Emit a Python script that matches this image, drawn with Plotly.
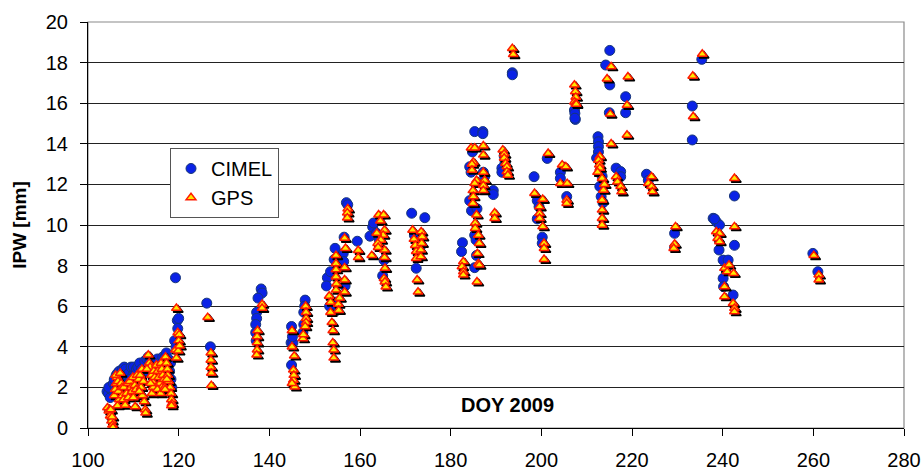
import plotly.graph_objects as go

# ---- data (DOY 2009, IPW mm) ----
cimel_doy = [
    104.2, 104.5, 104.9, 105.1, 105.4, 104.6, 105.6,
    105.8, 106.2, 106.5, 106.9, 106.0,
    107.3, 107.6, 108.0, 108.3, 107.0, 107.9, 108.6,
    109.0, 109.5, 109.9, 110.3, 109.3, 110.0, 110.7,
    111.0, 111.4, 111.8, 112.2, 111.6, 112.5,
    113.0, 113.3, 113.6, 113.9, 114.3, 113.2, 114.6, 114.8,
    115.0, 115.3, 115.8, 116.2, 115.5, 116.5, 116.8,
    117.0, 117.3, 117.7, 118.0, 118.3, 117.5, 118.2, 118.5,
    119.3, 119.7, 120.0, 119.8, 119.1, 119.4,
    126.2, 127.0,
    138.2, 138.4, 137.5, 137.2, 137.2, 137.0, 137.0, 137.1,
    144.9, 144.8, 145.2, 144.9, 145.1,
    147.9, 147.6, 147.6, 147.4, 147.8,
    152.8, 152.6, 154.5, 154.3, 153.5, 154.7, 154.9, 153.3,
    156.5, 156.3, 156.4, 156.7, 157.0, 157.3,
    159.4,
    162.2, 162.8, 163.0, 163.6, 164.2, 165.3, 165.0,
    171.4, 174.3, 172.4, 172.0, 173.5,
    182.6, 182.4,
    185.3, 187.1, 187.1, 184.8, 184.2, 184.5, 187.2, 187.5, 189.4, 189.4,
    184.2, 184.6, 185.8, 185.3, 185.6, 185.7, 185.3,
    191.8, 192.0, 191.3, 191.3, 193.6, 193.6,
    198.4, 199.1, 199.5, 199.1, 200.2, 200.2, 201.3,
    204.2, 204.2, 205.6,
    207.3, 207.5, 207.4, 207.4,
    212.5, 212.6, 212.6, 212.6, 213.0, 213.4, 212.9, 213.2, 213.6, 212.2,
    215.1, 214.2, 215.1, 215.0, 218.6, 218.6, 216.5, 217.5, 217.5,
    223.2, 223.6,
    229.4, 229.4,
    233.3, 233.3, 235.4,
    237.9, 238.6, 239.3, 239.2, 240.1, 241.2, 240.1, 240.2, 242.3, 242.6, 242.6, 238.2,
    259.9, 261.0,
]
cimel_ipw = [
    1.8, 1.7, 1.5, 1.9, 2.1, 2.0, 2.2,
    2.4, 2.6, 2.7, 2.8, 2.0,
    2.7, 2.9, 3.0, 2.9, 2.3, 2.5, 2.6,
    2.7, 3.0, 2.6, 2.8, 2.4, 3.0, 2.9,
    3.0, 3.2, 2.9, 2.7, 2.5, 3.3,
    3.4, 3.5, 3.2, 2.9, 3.0, 2.8, 3.2, 2.7,
    3.2, 3.4, 3.0, 3.3, 2.9, 3.5, 3.0,
    3.5, 3.7, 3.4, 2.8, 2.4, 3.0, 3.2, 2.0,
    7.4, 5.3, 5.4, 4.9, 4.3, 4.0,
    6.15, 4.0,
    6.85, 6.65, 6.4, 5.7, 5.4, 5.1, 4.7, 4.3,
    5.0, 4.2, 4.2, 3.1, 4.5,
    6.3, 5.7, 5.1, 4.7, 6.0,
    7.4, 7.0, 8.85, 8.3, 7.7, 6.2, 5.8, 6.0,
    9.4, 8.6, 8.2, 7.0, 11.1, 11.0,
    9.2,
    9.45, 9.9, 10.1, 9.6, 9.3, 8.27, 7.5,
    10.58, 10.36, 7.87, 9.5, 9.0,
    9.13, 8.69,
    14.6, 14.6, 14.5, 13.6, 12.87, 12.6, 12.6, 12.4, 11.7, 11.5,
    11.2, 10.7, 10.8, 9.5, 9.26, 8.5, 7.9,
    13.4, 13.1, 12.8, 12.6, 17.5, 17.4,
    12.38, 11.2, 10.9, 10.3, 9.4, 9.1, 13.28,
    12.6, 12.3, 11.4,
    15.66, 15.2, 15.5, 15.26,
    14.35, 14.1, 13.86, 13.6, 12.7, 12.4, 11.9, 11.4, 11.1, 13.3,
    18.6, 17.88, 16.9, 15.53, 16.32, 15.53, 12.8, 12.63, 12.38,
    12.5, 12.2,
    9.59, 8.9,
    15.86, 14.19, 18.16,
    10.33, 10.16, 10.0, 8.77, 8.27, 8.27, 7.37, 6.96, 6.55, 9.0, 11.43, 10.3,
    8.6, 7.7,
]

gps_doy = [
    104.3, 104.6, 104.9, 105.2, 105.4, 105.5, 105.0, 105.3,
    105.8, 106.0, 106.2, 106.4, 106.7, 106.9, 106.5, 106.1, 106.6,
    107.1, 107.3, 107.5, 107.6, 107.8, 108.2, 108.5, 107.9, 108.8, 108.9,
    109.2, 109.5, 109.7, 110.0, 110.4, 110.3, 109.9, 110.6, 110.8,
    111.2, 111.5, 111.7, 112.0, 112.4, 112.6, 112.7, 111.9, 111.3, 112.2,
    113.3, 113.5, 113.7, 114.0, 114.2, 114.4, 114.1, 113.0, 113.8, 114.5, 114.7,
    115.1, 115.4, 115.6, 115.9, 116.1, 116.3, 116.5, 116.3, 115.3, 116.0, 116.8, 116.9,
    117.1, 117.3, 117.5, 117.6, 117.8, 118.1, 118.3, 118.4, 118.5, 118.4, 117.0, 117.4,
    119.5, 119.8, 120.1, 120.0, 119.3, 119.9, 119.5, 120.2,
    126.4, 127.1, 127.1, 127.1, 127.2, 127.2,
    138.4, 138.4, 137.4, 137.3, 137.3, 137.3, 137.2,
    145.0, 145.0, 145.5, 145.3, 145.3, 145.6, 145.0, 145.4,
    148.0, 148.1, 148.1, 148.1, 147.9, 147.4, 147.5,
    154.7, 154.7, 154.7, 154.7, 154.8, 154.7, 153.2, 153.5, 153.5, 153.8, 154.0, 154.0, 154.2, 154.2, 155.2, 155.3, 155.5,
    156.6, 156.8, 156.6, 156.6, 156.6, 157.3, 157.2, 157.2,
    159.6, 159.6,
    162.6, 164.1, 165.2, 164.5, 165.4, 165.1, 164.6, 163.9, 165.4, 165.4, 165.5, 165.3, 165.5, 165.7, 164.0, 163.7,
    171.6, 171.9, 172.2, 172.4, 172.4, 172.6, 172.8, 173.5, 173.7, 173.6, 173.4, 173.4,
    182.8, 182.5, 182.8, 182.8,
    184.5, 185.3, 187.2, 187.2, 185.0, 184.7, 184.7, 187.2, 187.5, 187.2, 187.2, 185.7, 185.3, 184.9, 185.0, 184.9,
    185.7, 185.4, 185.4, 186.1, 186.3, 185.9, 186.1, 186.3, 185.8, 189.7, 189.7,
    191.5, 191.8, 191.8, 192.1, 192.4, 192.4, 192.6, 193.6, 193.8,
    198.5, 200.3, 199.6, 199.6, 199.6, 200.3, 200.6, 200.6, 200.6, 201.5,
    204.6, 205.4, 204.2, 205.7, 205.6, 205.6,
    207.3, 207.5, 207.6, 207.3, 207.6, 207.7,
    212.9, 212.6, 212.8, 212.9, 213.4, 213.7, 213.4, 213.4, 213.4, 213.4, 212.4, 213.9,
    215.4, 214.5, 219.1, 218.9, 215.2, 215.4, 218.9, 216.5, 216.8, 217.5, 217.7,
    224.3, 223.6, 224.3, 224.5,
    229.6, 229.4, 229.2,
    233.4, 233.5, 235.5,
    238.6, 239.3, 238.9, 239.3, 240.4, 241.4, 241.0, 242.4, 240.4, 240.4, 242.3, 242.6, 242.6, 242.6, 242.6,
    260.1, 261.2, 261.2,
]
gps_ipw = [
    1.0, 0.85, 0.6, 0.35, 0.15, 0.02, 0.9, 0.55,
    1.6, 1.9, 2.2, 2.5, 1.8, 1.4, 1.1, 2.6, 2.3,
    2.7, 2.2, 2.0, 1.6, 1.4, 1.13, 1.7, 2.0, 2.2, 1.5,
    2.3, 2.0, 1.8, 1.5, 1.05, 2.1, 2.5, 1.9, 2.6,
    2.4, 2.6, 2.0, 1.6, 1.3, 0.9, 0.74, 2.9, 1.8, 2.3,
    3.6, 3.2, 3.0, 2.6, 2.3, 2.0, 1.7, 2.9, 2.2, 2.8, 2.5,
    3.1, 2.8, 2.5, 2.2, 3.2, 2.9, 2.6, 2.0, 1.9, 1.7, 2.4, 2.0,
    3.5, 3.2, 2.9, 2.6, 2.3, 2.0, 1.7, 1.4, 1.2, 1.1, 1.9, 2.4,
    5.9, 4.7, 4.6, 4.3, 3.85, 3.8, 3.45, 4.05,
    5.45, 3.7, 3.35, 3.0, 2.7, 2.1,
    6.1, 5.9, 4.8, 4.5, 4.2, 3.85, 3.6,
    4.8, 4.0, 3.55, 2.86, 2.36, 2.03, 2.2, 2.6,
    6.0, 5.7, 5.4, 5.2, 5.0, 4.4, 4.6,
    8.5, 8.1, 7.8, 7.45, 7.1, 6.8, 6.5, 6.2, 5.7, 5.2, 4.8, 4.2, 3.85, 3.45, 6.1, 5.8, 6.4,
    9.35, 8.85, 7.9, 7.3, 6.7, 10.8, 10.6, 10.35,
    8.75, 8.4,
    8.5, 10.5, 10.5, 10.2, 9.75, 9.5, 9.26, 9.1, 8.77, 8.4, 7.87, 7.37, 7.2, 6.95, 8.9, 9.6,
    9.75, 9.3, 9.0, 8.7, 8.36, 7.3, 6.7, 9.67, 9.42, 9.1, 8.77, 8.44,
    8.2, 7.95, 7.7, 7.54,
    13.8, 13.8, 13.9, 13.45, 13.1, 13.0, 12.7, 12.6, 12.2, 11.95, 11.7, 12.2, 12.05, 11.7, 11.4, 11.07,
    10.5, 10.1, 9.84, 9.5, 9.1, 8.6, 8.1, 8.03, 7.2, 10.6, 10.33,
    13.7, 13.5, 13.3, 13.04, 12.87, 12.63, 12.46, 18.7, 18.4,
    11.56, 11.27, 10.9, 10.57, 10.33, 9.92, 9.1, 8.85, 8.31, 13.53,
    12.96, 12.87, 12.05, 12.05, 11.23, 11.07,
    16.9, 16.57, 16.3, 16.07, 16.0, 15.95,
    13.37, 13.2, 12.96, 12.8, 12.3, 11.72, 11.23, 10.74, 10.33, 10.0, 12.6, 12.0,
    17.8, 17.2, 17.3, 15.9, 15.47, 14.0, 14.43, 12.38, 12.13, 11.9, 11.64,
    12.38, 12.05, 11.9, 11.64,
    9.92, 9.06, 8.85,
    17.34, 15.34, 18.42,
    9.67, 9.59, 9.34, 9.18, 7.87, 8.03, 7.7, 7.62, 6.96, 6.47, 6.14, 5.9, 5.73, 9.92, 12.3,
    8.5, 7.54, 7.3,
]

x_ticks = [100, 120, 140, 160, 180, 200, 220, 240, 260, 280]
y_ticks = [0, 2, 4, 6, 8, 10, 12, 14, 16, 18, 20]

X_RANGE = [100, 280]
Y_RANGE = [0, 20]

W, H = 923, 473
M = dict(l=88, r=19, t=22, b=45)
plot_w = W - M["l"] - M["r"]
plot_h = H - M["t"] - M["b"]
# shadow offset: ~2 px right / down, converted through axis scale
sdx = 1.8 * (X_RANGE[1] - X_RANGE[0]) / plot_w
sdy = 1.8 * (Y_RANGE[1] - Y_RANGE[0]) / plot_h

FONT = "Arial, Liberation Sans, Helvetica, sans-serif"

fig = go.Figure()
fig.add_trace(go.Scatter(
    x=cimel_doy, y=cimel_ipw, mode="markers", name="CIMEL",
    marker=dict(symbol="circle", size=10, color="#0a22e6",
                line=dict(color="#16357a", width=1)),
))
fig.add_trace(go.Scatter(
    x=[v + sdx for v in gps_doy], y=[v - sdy for v in gps_ipw], mode="markers",
    showlegend=False, hoverinfo="skip",
    marker=dict(symbol="triangle-up", size=8.5, color="black",
                line=dict(color="black", width=1.5)),
))
fig.add_trace(go.Scatter(
    x=gps_doy, y=gps_ipw, mode="markers", name="GPS",
    marker=dict(symbol="triangle-up", size=8.5, color="#ffe800",
                line=dict(color="#ff1a00", width=1.5)),
))

fig.add_annotation(
    text="<b>DOY 2009</b>", xref="paper", yref="paper",
    x=(508 - M["l"]) / plot_w, y=(H - M["b"] - 405) / plot_h,
    showarrow=False, font=dict(family=FONT, size=20, color="black"),
    xanchor="center", yanchor="middle",
)

# frame
fig.add_shape(type="rect", xref="paper", yref="paper", x0=0, y0=0, x1=1, y1=1,
              line=dict(color="#8a8a8a", width=1.2), layer="below")

fig.update_layout(
    width=W, height=H, margin=M,
    paper_bgcolor="white", plot_bgcolor="white",
    font=dict(family=FONT, size=20, color="black"),
    showlegend=True,
    legend=dict(
        x=(170 - M["l"]) / plot_w, y=(H - M["b"] - 148) / plot_h,
        xanchor="left", yanchor="top",
        bgcolor="white", bordercolor="#555555", borderwidth=1,
        font=dict(family=FONT, size=20, color="black"),
        tracegroupgap=6, traceorder="grouped",
    ),
    xaxis=dict(
        range=X_RANGE, tickvals=x_ticks, ticktext=[str(v) for v in x_ticks],
        showgrid=False, zeroline=False, automargin=False,
        showline=True, linecolor="black", linewidth=1,
        ticks="outside", ticklen=7, tickcolor="black",
        tickfont=dict(family=FONT, size=20), ticklabelstandoff=7,
    ),
    yaxis=dict(
        range=Y_RANGE, tickvals=y_ticks, ticktext=[str(v) for v in y_ticks],
        showgrid=True, gridcolor="#222222", gridwidth=1, zeroline=False,
        automargin=False,
        showline=True, linecolor="black", linewidth=1,
        ticks="outside", ticklen=7, tickcolor="black",
        tickfont=dict(family=FONT, size=20), ticklabelstandoff=8,
        title=dict(text="<b>IPW [mm]</b>", font=dict(family=FONT, size=19), standoff=14),
    ),
)

fig.write_html("out.html")
